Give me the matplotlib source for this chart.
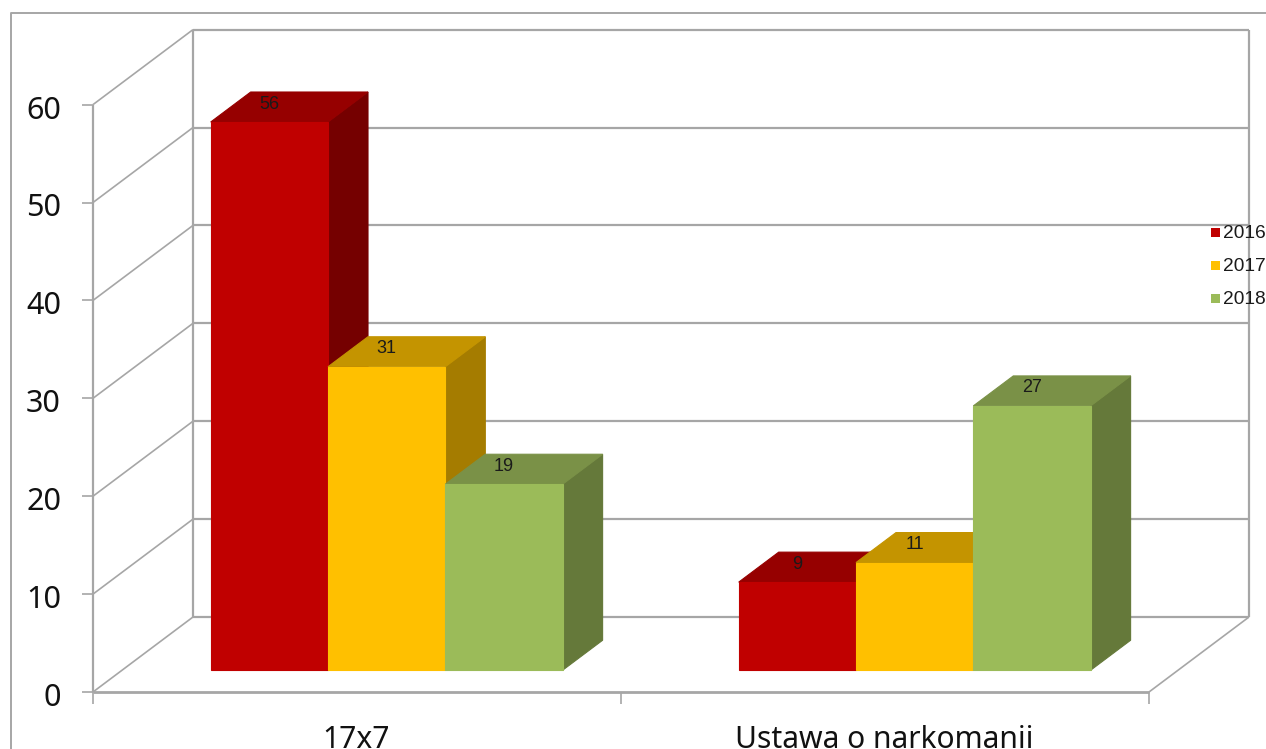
import matplotlib
matplotlib.use("Agg")
import matplotlib.pyplot as plt
from matplotlib.patches import Polygon

categories = ["17x7", "Ustawa o narkomanii"]
series_names = ["2016", "2017", "2018"]
values_2016 = [56, 9]
values_2017 = [31, 11]
values_2018 = [19, 27]
y_ticks = [0, 10, 20, 30, 40, 50, 60]

front_colors = ["#C00000", "#FFC000", "#9BBB59"]
top_colors = ["#960000", "#C49400", "#7A9147"]
side_colors = ["#750000", "#A57C00", "#65793A"]
grid_color = "#A6A6A6"

W, H = 1266, 749
fig = plt.figure(figsize=(W / 100, H / 100), dpi=100, facecolor="white")
ax = fig.add_axes([0, 0, 1, 1])
ax.set_xlim(0, W)
ax.set_ylim(H, 0)
ax.axis("off")

X0, Y0 = 93.0, 692.0
CAT_W = 528.0
UNIT = 9.79
DX, DY = 100.0, -75.0


def proj(cat, val, depth=0.0):
    return (X0 + CAT_W * cat + DX * depth, Y0 - UNIT * val + DY * depth)


def line(p, q, lw=1.6, color=grid_color, z=1):
    ax.plot([p[0], q[0]], [p[1], q[1]], color=color, lw=lw, solid_capstyle="butt", zorder=z)


# outer frame
ax.plot([10.5, 10.5, W], [H, 13, 13], color="#A6A6A6", lw=1.4, zorder=1)

top_val = y_ticks[-1]
# walls and gridlines
line(proj(0, 0), proj(0, top_val))
line(proj(0, 0, 1), proj(0, top_val, 1))
line(proj(2, 0, 1), proj(2, top_val, 1))
for v in y_ticks:
    line(proj(0, v), proj(0, v, 1), lw=1.2)
    line(proj(0, v, 1), proj(2, v, 1))
    p = proj(0, v)
    line((p[0] - 11, p[1]), p, lw=1.2)
    ax.text(61, p[1] + 6, str(v), ha="right", va="center", fontsize=22,
            family="Noto Sans", color="#111111", zorder=6)
# floor
line(proj(0, 0), proj(2, 0), lw=2)
line(proj(2, 0), proj(2, 0, 1), lw=1.2)
for c in (0, 1, 2):
    p = proj(c, 0)
    line(p, (p[0], p[1] + 12), lw=1.2)

# bars
BAR_W = 117.3 / CAT_W
START = 0.168
D0, D1 = 0.29, 0.69
all_values = [values_2016, values_2017, values_2018]
for c, cat in enumerate(categories):
    for s, vals in enumerate(all_values):
        x0 = c + START + s * BAR_W
        x1 = x0 + BAR_W
        v = vals[c]
        side = [proj(x1, 0, D0), proj(x1, v, D0), proj(x1, v, D1), proj(x1, 0, D1)]
        top = [proj(x0, v, D0), proj(x1, v, D0), proj(x1, v, D1), proj(x0, v, D1)]
        front = [proj(x0, 0, D0), proj(x1, 0, D0), proj(x1, v, D0), proj(x0, v, D0)]
        zb = 3 + s * 0.1
        ax.add_patch(Polygon(side, closed=True, fc=side_colors[s], ec=side_colors[s], lw=0.8, zorder=zb))
        ax.add_patch(Polygon(top, closed=True, fc=top_colors[s], ec=top_colors[s], lw=0.8, zorder=zb))
        ax.add_patch(Polygon(front, closed=True, fc=front_colors[s], ec=front_colors[s], lw=0.8, zorder=zb))
        lx, ly = proj((x0 + x1) / 2, v, D0)
        ax.text(lx, ly - 18, str(v), ha="center", va="center", fontsize=13,
                family="Liberation Sans", color="#1a1a1a", zorder=5)

# category labels
for c, cat in enumerate(categories):
    px = proj(c + 0.5, 0)[0]
    ax.text(px - 0.5, 747.5, cat, ha="center", va="baseline",
            fontsize=21.6, family="Noto Sans", color="#111111", zorder=6)

# legend
for s, name in enumerate(series_names):
    y = 232.5 + 33 * s
    ax.add_patch(Polygon([(1211, y - 4.5), (1219.5, y - 4.5), (1219.5, y + 4.5), (1211, y + 4.5)],
                         closed=True, fc=front_colors[s], ec="none", zorder=7))
    ax.text(1223, y + 1, name, ha="left", va="center", fontsize=13.8,
            family="Liberation Sans", color="#1a1a1a", zorder=7)

fig.savefig("out.png", dpi=100)
